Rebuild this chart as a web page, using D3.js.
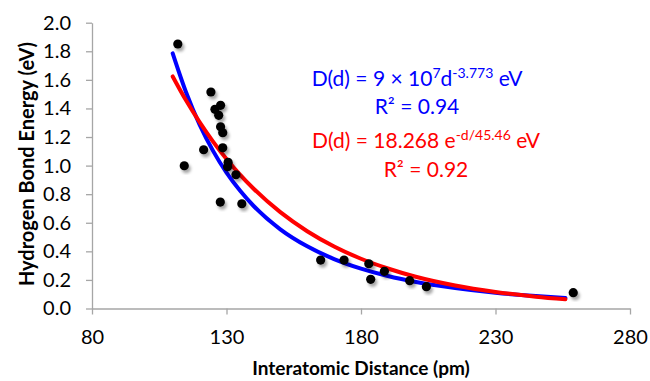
<html>
<head>
<meta charset="utf-8">
<script src="https://cdn.jsdelivr.net/npm/d3@7"></script>
<style>
  body { margin: 0; background: #fff; }
  text { font-family: Lato, "Open Sans", sans-serif; }
  .axis path, .axis line { stroke: #a6a6a6; stroke-width: 1.3; }
  .axis text { font-size: 20px; fill: #000; }
</style>
</head>
<body>
<div id="chart"></div>
<script>
// measured points (pm, eV)
var distance = [111.9, 114.3, 124.2, 127.8, 125.7, 127.1, 127.8, 128.6, 121.5, 128.6, 130.6, 130.4,
                133.5, 127.7, 135.7, 165.0, 173.7, 182.9, 183.6, 188.7, 198.1, 204.3, 258.9];
var energy   = [1.851, 0.999, 1.515, 1.422, 1.394, 1.352, 1.272, 1.230, 1.111, 1.125, 1.023, 0.992,
                0.936, 0.745, 0.733, 0.339, 0.339, 0.313, 0.204, 0.260, 0.195, 0.153, 0.111];

// fit curves
var fitX     = [110, 115, 120, 125, 130, 135, 140, 150, 160, 170, 180, 190, 200, 215, 230, 245, 256];
var powerFit = [1.786, 1.512, 1.287, 1.103, 0.951, 0.825, 0.719, 0.554, 0.435, 0.346, 0.279, 0.227,
                0.187, 0.143, 0.110, 0.087, 0.074];
var expFit   = [1.624, 1.455, 1.304, 1.168, 1.046, 0.937, 0.840, 0.674, 0.541, 0.434, 0.348, 0.280,
                0.224, 0.161, 0.116, 0.083, 0.065];

var xTicks = [80, 130, 180, 230, 280];
var yTicks = [0, 0.2, 0.4, 0.6, 0.8, 1.0, 1.2, 1.4, 1.6, 1.8, 2.0];

var width = 650, height = 381;

var x = d3.scaleLinear().domain([80, 280]).range([92, 630]);
var y = d3.scaleLinear().domain([0, 2]).range([308.5, 22.7]);

var svg = d3.select("#chart").append("svg")
    .attr("width", width)
    .attr("height", height);

// soft shadow for the dots
var filter = svg.append("defs").append("filter")
    .attr("id", "shadow")
    .attr("x", "-50%").attr("y", "-50%")
    .attr("width", "200%").attr("height", "200%");
filter.append("feDropShadow")
    .attr("dx", 2).attr("dy", 3)
    .attr("stdDeviation", 1.6)
    .attr("flood-color", "#000")
    .attr("flood-opacity", 0.35);

// axes
svg.append("g")
    .attr("class", "axis")
    .attr("transform", "translate(0," + y(0) + ")")
    .call(d3.axisBottom(x).tickValues(xTicks).tickSize(6).tickSizeOuter(0).tickPadding(15).tickFormat(d3.format("d")));

svg.append("g")
    .attr("class", "axis")
    .attr("transform", "translate(" + x(80) + ",0)")
    .call(d3.axisLeft(y).tickValues(yTicks).tickSize(6).tickSizeOuter(0).tickPadding(15).tickFormat(d3.format(".1f")));

// fit lines
var line = function(vals) {
  return d3.line()
    .x(function(d, i) { return x(fitX[i]); })
    .y(function(d) { return y(d); })
    .curve(d3.curveMonotoneX)(vals);
};

svg.append("path")
    .attr("d", line(powerFit))
    .attr("fill", "none")
    .attr("stroke", "#0000ff")
    .attr("stroke-width", 4)
    .attr("stroke-linecap", "round");

svg.append("path")
    .attr("d", line(expFit))
    .attr("fill", "none")
    .attr("stroke", "#ff0000")
    .attr("stroke-width", 4)
    .attr("stroke-linecap", "round");

// data points
svg.selectAll("circle.pt")
    .data(distance)
    .enter()
    .append("circle")
    .attr("class", "pt")
    .attr("cx", function(d) { return x(d); })
    .attr("cy", function(d, i) { return y(energy[i]); })
    .attr("r", 4.6)
    .attr("fill", "#000")
    .attr("filter", "url(#shadow)");

// equations
var eq = svg.append("g").style("font-size", "21px");

var t1 = eq.append("text").attr("x", 417).attr("y", 86).attr("text-anchor", "middle").attr("fill", "#0000ff");
t1.append("tspan").text("D(d) = 9 × 10");
t1.append("tspan").attr("dy", -8).style("font-size", "14px").text("7");
t1.append("tspan").attr("dy", 8).text("d");
t1.append("tspan").attr("dy", -8).style("font-size", "14px").text("-3.773");
t1.append("tspan").attr("dy", 8).text(" eV");

eq.append("text").attr("x", 417).attr("y", 114).attr("text-anchor", "middle")
    .attr("fill", "#0000ff").text("R² = 0.94");

var t2 = eq.append("text").attr("x", 426).attr("y", 148).attr("text-anchor", "middle").attr("fill", "#ff0000");
t2.append("tspan").text("D(d) = 18.268 e");
t2.append("tspan").attr("dy", -8).style("font-size", "14px").text("-d/45.46");
t2.append("tspan").attr("dy", 8).text(" eV");

eq.append("text").attr("x", 426).attr("y", 177).attr("text-anchor", "middle")
    .attr("fill", "#ff0000").text("R² = 0.92");

// axis titles
svg.append("text")
    .attr("transform", "translate(34,164) rotate(-90)")
    .attr("text-anchor", "middle")
    .style("font-size", "20px")
    .style("font-weight", "bold")
    .text("Hydrogen Bond Energy (eV)");

svg.append("text")
    .attr("x", 361)
    .attr("y", 375)
    .attr("text-anchor", "middle")
    .style("font-size", "19px")
    .style("font-weight", "bold")
    .text("Interatomic Distance (pm)");
</script>
</body>
</html>
